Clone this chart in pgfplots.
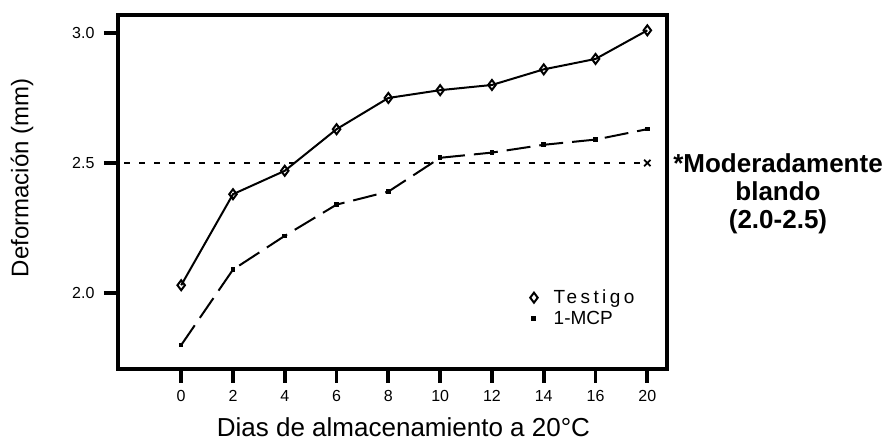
\documentclass[border=0pt]{standalone}
\usepackage{pgfplots}
\pgfplotsset{compat=1.18}
\usepackage{fontspec}
\setmainfont{Liberation Sans}

% Deformation over storage days (categories plotted at 0..9)
\pgfplotstableread{
idx testigo mcp
0 2.03 1.80
1 2.38 2.09
2 2.47 2.22
3 2.63 2.34
4 2.75 2.39
5 2.78 2.52
6 2.80 2.54
7 2.86 2.57
8 2.90 2.59
9 3.01 2.63
}\datatable

\begin{document}
\begin{tikzpicture}
\begin{axis}[
  name=ax,
  scale only axis, width=549pt, height=354pt,
  xmin=-1.22, xmax=9.38, ymin=1.708, ymax=3.069,
  xtick={0,...,9}, xticklabels={0,2,4,6,8,10,12,14,16,20},
  ytick={2.0,2.5,3.0},
  yticklabel style={/pgf/number format/fixed, /pgf/number format/fixed zerofill,
    /pgf/number format/precision=1, xshift=-6pt},
  xtick pos=bottom, ytick pos=left,
  tick align=outside, major tick length=14pt,
  separate axis lines,
  axis line style={line width=4.2pt, line cap=rect},
  every tick/.append style={line width=3.8pt, black},
  /pgf/number format/assume math mode=true,
  tick label style={font=\fontsize{16}{16}\selectfont},
  xticklabel style={yshift=-4pt},
  xlabel={Dias de almacenamiento a 20°C},
  ylabel={Deformación (mm)},
  xlabel style={font=\fontsize{26}{26}\selectfont, at={(axis description cs:0.52,-0.192)}, anchor=base},
  ylabel style={font=\fontsize{24}{24}\selectfont, at={(axis description cs:-0.175,0.54)}, anchor=center},
  legend style={draw=none, fill=none, at={(0.745,0.235)}, anchor=north west,
    font=\fontsize{19}{19}\selectfont, row sep=2pt, cells={anchor=west},
    /tikz/every odd column/.append style={column sep=14pt}},
]
% reference threshold line
\addplot[black, line width=1.7pt, dash pattern=on 6pt off 9pt, mark=x, mark size=4.5pt,
  mark indices={2}, mark options={solid, line width=1.7pt}, forget plot]
  coordinates {(-1.1,2.5) (9,2.5)};
\addplot[black, line width=2pt, mark=diamond, mark size=5pt,
  mark options={solid, line width=2pt}, forget plot]
  table[x=idx, y=testigo] {\datatable};
\addplot[black, line width=2pt, dash pattern=on 24pt off 9pt, mark=square*, mark size=1.8pt,
  mark options={solid, line width=1pt}, forget plot]
  table[x=idx, y=mcp] {\datatable};
\addlegendimage{only marks, mark=diamond, mark size=5pt, mark options={line width=2pt}}
\addlegendentry{\addfontfeature{LetterSpace=18}Testigo}
\addlegendimage{only marks, mark=square*, mark size=2pt, mark options={line width=1pt}}
\addlegendentry{1-MCP}
\end{axis}
\node[font=\bfseries\fontsize{26}{28}\selectfont, align=center]
  at ([xshift=111pt,yshift=-2pt]ax.east) {*Moderadamente\\blando\\(2.0-2.5)};
\pgfresetboundingbox
\path ([shift={(-118pt,-75pt)}]ax.south west) rectangle ([shift={(220pt,15pt)}]ax.north east);
\end{tikzpicture}
\end{document}
